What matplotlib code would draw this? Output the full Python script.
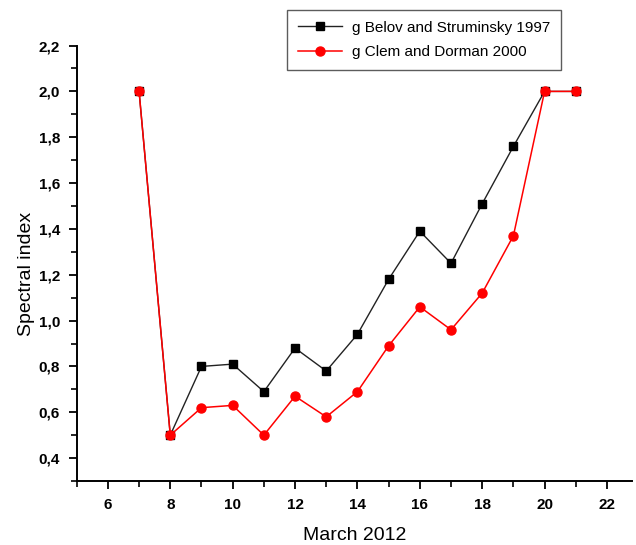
import matplotlib
matplotlib.use("Agg")
import matplotlib.pyplot as plt
from matplotlib.ticker import MultipleLocator, FuncFormatter

plt.rcParams['font.family'] = ['Liberation Sans', 'DejaVu Sans']

days = [7, 8, 9, 10, 11, 12, 13, 14, 15, 16, 17, 18, 19, 20, 21]
belov = [2.0, 0.50, 0.80, 0.81, 0.69, 0.88, 0.78, 0.94, 1.18, 1.39, 1.25, 1.51, 1.76, 2.0, 2.0]
clem = [2.0, 0.50, 0.62, 0.63, 0.50, 0.67, 0.58, 0.69, 0.89, 1.06, 0.96, 1.12, 1.37, 2.0, 2.0]

fig = plt.figure(figsize=(6.36, 5.45), dpi=100)
ax = fig.add_axes([0.1206, 0.1174, 0.873, 0.799])

ax.plot(days, belov, color='#222222', lw=1.0, marker='s', ms=6,
        mfc='black', mec='black', label='g Belov and Struminsky 1997')
ax.plot(days, clem, color='red', lw=1.1, marker='o', ms=6.5,
        mfc='red', mec='red', label='g Clem and Dorman 2000')

ax.set_xlim(5, 22.8)
ax.set_ylim(0.3, 2.2)
ax.xaxis.set_major_locator(MultipleLocator(2))
ax.xaxis.set_minor_locator(MultipleLocator(1))
ax.yaxis.set_major_locator(MultipleLocator(0.2))
ax.yaxis.set_minor_locator(MultipleLocator(0.1))
ax.yaxis.set_major_formatter(FuncFormatter(lambda v, p: f"{v:.1f}".replace('.', ',')))

for s in ['top', 'right']:
    ax.spines[s].set_visible(False)
for s in ['left', 'bottom']:
    ax.spines[s].set_linewidth(1.4)
ax.tick_params(which='major', direction='out', length=6, width=1.3, labelsize=11, pad=6)
ax.tick_params(which='minor', direction='out', length=4, width=1.2)
for lab in ax.get_xticklabels() + ax.get_yticklabels():
    lab.set_fontweight('bold')

ax.set_xlabel('March 2012', fontsize=14, labelpad=11)
ax.set_ylabel('Spectral index', fontsize=14)
ax.yaxis.set_label_coords(-0.075, 0.475)

leg = ax.legend(loc='upper left', bbox_to_anchor=(0.379, 1.082), borderaxespad=0,
                fontsize=11, frameon=True, fancybox=False, edgecolor='#333333',
                handlelength=2.9, handletextpad=0.65, borderpad=0.7, labelspacing=0.7)
leg.get_frame().set_linewidth(1.0)

fig.savefig('out.png', dpi=100)
